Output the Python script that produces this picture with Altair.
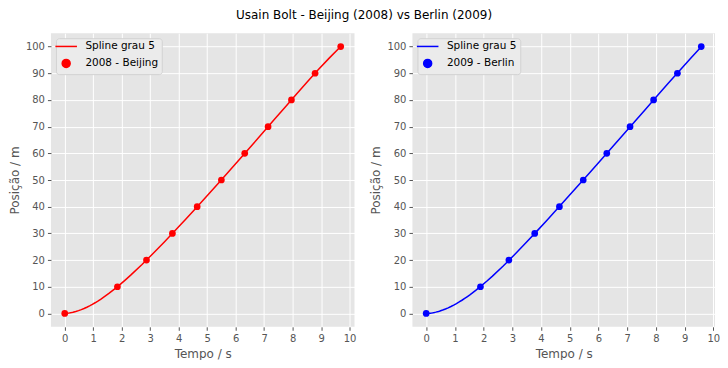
import altair as alt
import pandas as pd

title = "Usain Bolt - Beijing (2008) vs Berlin (2009)"
positions = [0, 10, 20, 30, 40, 50, 60, 70, 80, 90, 100]
t_beijing = [0, 1.85, 2.87, 3.78, 4.65, 5.50, 6.32, 7.14, 7.96, 8.79, 9.69]
t_berlin = [0, 1.89, 2.88, 3.78, 4.64, 5.47, 6.29, 7.10, 7.92, 8.75, 9.58]
spline_label = "Spline grau 5"
x_ticks = list(range(0, 11))
y_ticks = list(range(0, 101, 10))
FONT = "DejaVu Sans"


def panel(times, label, color, xmin, xmax, width):
    df = pd.DataFrame({"t": times, "pos": positions, "series": label})
    base = alt.Chart(df)
    dom = [spline_label, label]
    legend = alt.Legend(
        title=None, orient="none", legendX=5, legendY=5,
        fillColor="#ebebeb", strokeColor="#d2d2d2", cornerRadius=3,
        padding=3, symbolOffset=2, labelOffset=14, rowPadding=4,
        labelFontSize=10.5, labelColor="#000000", labelFont=FONT, labelFontWeight="normal",
        symbolSize=64, symbolStrokeColor=color, symbolStrokeWidth=1.5,
    )
    color_enc = alt.Color("series:N", scale=alt.Scale(domain=dom, range=[color, color]), legend=legend)
    shape_enc = alt.Shape("series:N", scale=alt.Scale(domain=dom, range=["M-2.7,0H2.7", "circle"]), legend=legend)
    x = alt.X("t:Q", scale=alt.Scale(domain=[xmin, xmax], nice=False, zero=False),
              axis=alt.Axis(values=x_ticks, title="Tempo / s"))
    y = alt.Y("pos:Q", scale=alt.Scale(domain=[-5, 105], nice=False, zero=False),
              axis=alt.Axis(values=y_ticks, title="Posição / m"))
    line = (base.transform_regression("t", "pos", method="poly", order=5)
            .transform_calculate(series=f"'{spline_label}'")
            .mark_line(strokeWidth=1.5)
            .encode(x=x, y=y, color=color_enc))
    pts = base.mark_point(filled=True, size=45, opacity=1).encode(
        x=x, y=y, color=color_enc, shape=shape_enc)
    return alt.layer(line, pts).resolve_scale(color="shared", shape="shared").properties(width=width, height=294)


left = panel(t_beijing, "2008 - Beijing", "#ff0000", -0.4845, 10.1745, 304)
right = panel(t_berlin, "2009 - Berlin", "#0000ff", -0.479, 10.059, 303)

chart = (
    alt.hconcat(left, right, spacing=13)
    .resolve_scale(color="independent", shape="independent", x="independent")
    .properties(
        title=alt.TitleParams(title, anchor="middle", fontSize=12, fontWeight="normal",
                              color="#000000", font=FONT, offset=11),
        padding={"left": 0, "right": 0, "top": 1, "bottom": 0},
    )
    .configure(background="#ffffff")
    .configure_view(fill="#e5e5e5", stroke=None)
    .configure_axis(
        gridColor="#ffffff", gridWidth=1, domain=False,
        tickColor="#555555", tickSize=3.5, tickWidth=1,
        labelColor="#555555", labelFontSize=10, labelFont=FONT, labelPadding=3,
        titleColor="#555555", titleFontSize=12, titleFont=FONT, titleFontWeight="normal",
    )
    .configure_axisX(titlePadding=5)
    .configure_axisY(titlePadding=4)
)

chart.save("out.html", embed_options={"renderer": "svg", "actions": False})
